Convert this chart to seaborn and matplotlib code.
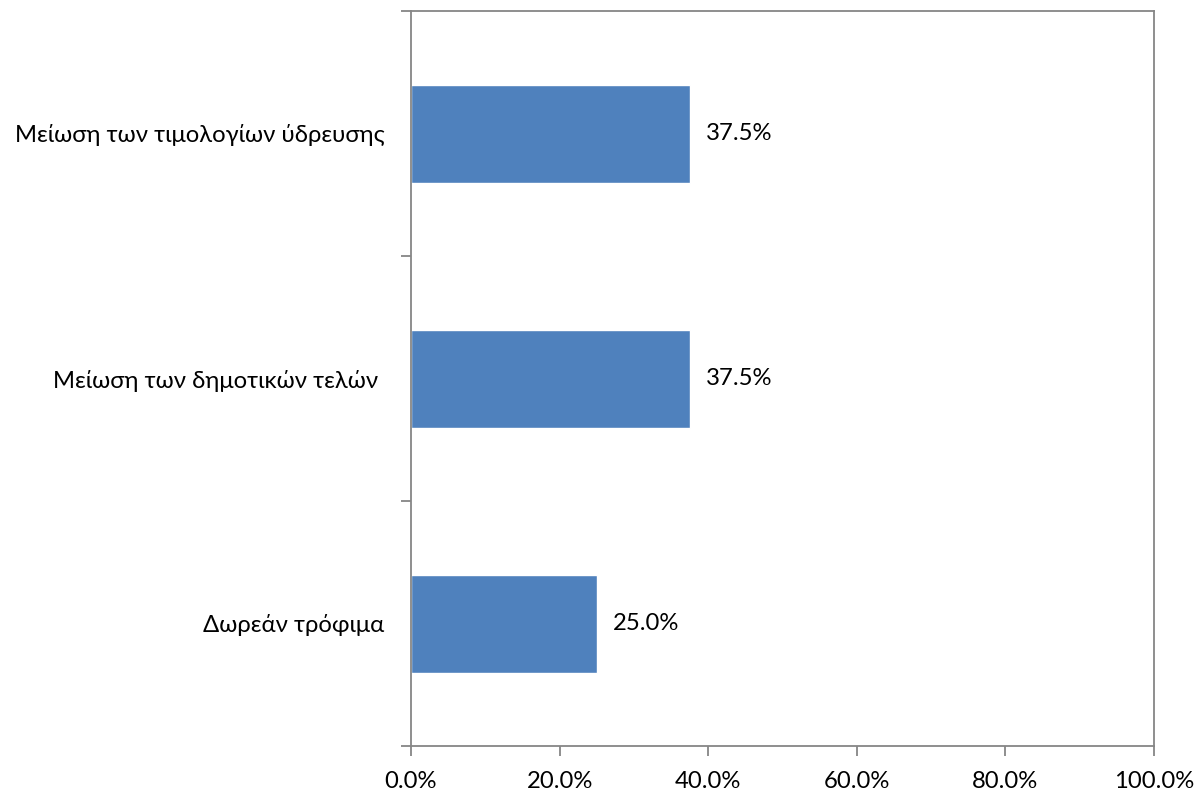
import matplotlib
matplotlib.use("Agg")
import matplotlib.pyplot as plt
import seaborn as sns
import pandas as pd
import numpy as np
from matplotlib.ticker import FixedLocator, PercentFormatter

categories = ["Μείωση των τιμολογίων ύδρευσης", "Μείωση των δημοτικών τελών ", "Δωρεάν τρόφιμα"]
values = [37.5, 37.5, 25.0]
xticks = [0, 20, 40, 60, 80, 100]

sns.set_theme(style="white")
plt.rcParams['font.family'] = ['Lato', 'DejaVu Sans']

df = pd.DataFrame({"cat": categories, "val": values})

fig = plt.figure(figsize=(12.01, 7.93), dpi=100)
ax = fig.add_axes([411/1201, 1-746/793, (1154-411)/1201, (746-11)/793])
sns.barplot(data=df, y="cat", x="val", color="#4F81BD", saturation=1, width=0.4, ax=ax, orient="h")

ax.set_xlim(0, 100)
ax.set_ylim(2.5, -0.5)
ax.set_xticks(xticks)
ax.xaxis.set_major_formatter(PercentFormatter(decimals=1))
ax.set_xlabel("")
ax.set_ylabel("")

for sp in ax.spines.values():
    sp.set_color("#868686")
    sp.set_linewidth(1.3)

fs = 17.2
ax.tick_params(axis="x", which="major", length=7, width=1.3, color="#868686", direction="out",
               labelsize=fs, pad=11, labelcolor="black", bottom=True)
ax.tick_params(axis="y", which="major", length=0, labelsize=fs, pad=19, labelcolor="black")
ax.yaxis.set_minor_locator(FixedLocator([-0.5, 0.5, 1.5, 2.5]))
ax.tick_params(axis="y", which="minor", length=7, width=1.3, color="#868686", direction="out", left=True)

for i, v in enumerate(values):
    ax.annotate(f"{v:.1f}%", xy=(v, i), xytext=(16, 0), textcoords="offset pixels",
                va="center", ha="left", fontsize=fs, color="black")

fig.savefig("out.png", dpi=100, facecolor="white")
